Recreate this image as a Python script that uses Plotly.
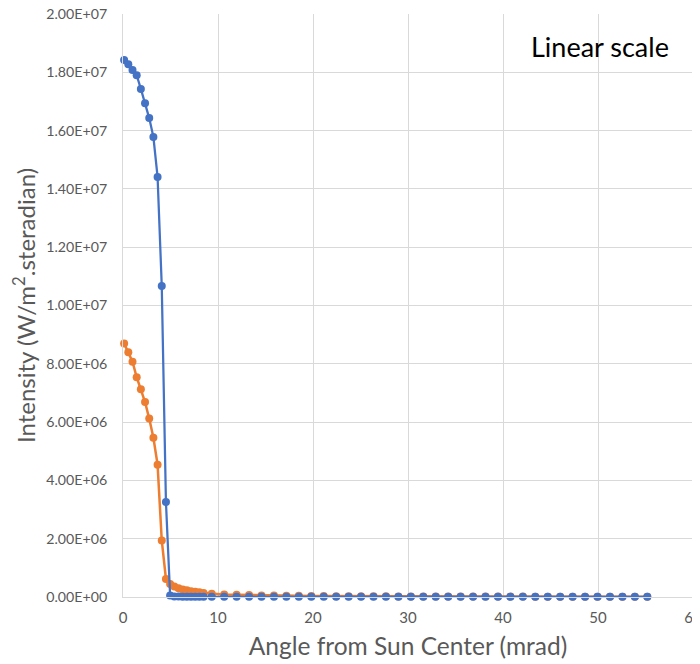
import plotly.graph_objects as go

# Angles (mrad)
x_core = [0.12, 0.56, 1.00, 1.44, 1.88, 2.32, 2.76, 3.20, 3.64, 4.08, 4.52, 4.96]
x_dense = [5.40, 5.84, 6.28, 6.72, 7.16, 7.60, 8.04, 8.48]
x_tail = [9.34 + 1.31 * k for k in range(36)]
x_all = x_core + x_dense + x_tail

blue_core = [1.842e7, 1.828e7, 1.808e7, 1.790e7, 1.743e7, 1.694e7, 1.643e7,
             1.578e7, 1.441e7, 1.067e7, 3.26e6, 5.0e4]
blue_dense = [2.0e4, 1.5e4, 1.2e4, 1.0e4, 9.0e3, 8.0e3, 7.0e3, 6.0e3]
blue_tail = [5.0e3] * 36

orange_core = [8.70e6, 8.40e6, 8.07e6, 7.54e6, 7.13e6, 6.69e6, 6.12e6,
               5.46e6, 4.54e6, 1.94e6, 6.2e5, 4.5e5]
orange_dense = [3.6e5, 3.0e5, 2.6e5, 2.3e5, 2.0e5, 1.8e5, 1.6e5, 1.4e5]
orange_tail = [1.1e5, 9.0e4, 7.5e4, 6.5e4, 5.5e4, 5.0e4, 4.5e4, 4.0e4, 3.6e4,
               3.3e4, 3.0e4, 2.8e4, 2.6e4, 2.4e4, 2.2e4, 2.1e4, 2.0e4, 1.9e4,
               1.8e4, 1.7e4, 1.6e4, 1.5e4, 1.4e4, 1.4e4, 1.3e4, 1.3e4, 1.2e4,
               1.2e4, 1.1e4, 1.1e4, 1.0e4, 1.0e4, 1.0e4, 9.0e3, 9.0e3, 9.0e3]

blue = blue_core + blue_dense + blue_tail
orange = orange_core + orange_dense + orange_tail

y_ticks = [0, 2e6, 4e6, 6e6, 8e6, 1e7, 1.2e7, 1.4e7, 1.6e7, 1.8e7, 2e7]
y_labels = ["0.00E+00", "2.00E+06", "4.00E+06", "6.00E+06", "8.00E+06",
            "1.00E+07", "1.20E+07", "1.40E+07", "1.60E+07", "1.80E+07", "2.00E+07"]
x_ticks = [0, 10, 20, 30, 40, 50, 60]

fig = go.Figure()
fig.add_trace(go.Scatter(x=x_all, y=orange, mode="lines+markers",
                         line=dict(color="#ED7D31", width=2.5),
                         marker=dict(color="#ED7D31", size=8),
                         showlegend=False, cliponaxis=False))
fig.add_trace(go.Scatter(x=x_all, y=blue, mode="lines+markers",
                         line=dict(color="#4472C4", width=2.25),
                         marker=dict(color="#4472C4", size=8),
                         showlegend=False, cliponaxis=False))

fig.update_layout(
    width=700, height=664,
    margin=dict(l=115, r=15, t=6, b=75),
    paper_bgcolor="white", plot_bgcolor="white",
    font=dict(family="Lato, Open Sans, sans-serif", color="#595959"),
    xaxis=dict(range=[0, 60], tickvals=x_ticks, showgrid=True, automargin=False,
               gridcolor="#D9D9D9", gridwidth=1, zeroline=False,
               showline=True, linecolor="#D9D9D9", mirror=False,
               tickfont=dict(size=15, color="#595959"), ticks="",
               ticklabelstandoff=7, ticklabeloverflow="allow",
               title=dict(text="Angle from Sun Center (mrad)",
                          font=dict(size=24.5, color="#595959"), standoff=12)),
    yaxis=dict(range=[0, 2e7], tickvals=y_ticks, ticktext=y_labels, automargin=False,
               showgrid=True, gridcolor="#D9D9D9", gridwidth=1, zeroline=False,
               showline=True, linecolor="#D9D9D9",
               tickfont=dict(size=14.2, color="#595959"), ticks="",
               ticklabelstandoff=12, ticklabeloverflow="allow",
               title=dict(text="Intensity (W/m<sup>2</sup>.steradian)",
                          font=dict(size=24, color="#595959"), standoff=4)),
    annotations=[dict(text="Linear scale", x=0.961, y=0.976, xref="paper",
                      yref="paper", xanchor="right", yanchor="top",
                      showarrow=False, font=dict(size=27, color="black"))],
)

fig.write_html("out.html")
